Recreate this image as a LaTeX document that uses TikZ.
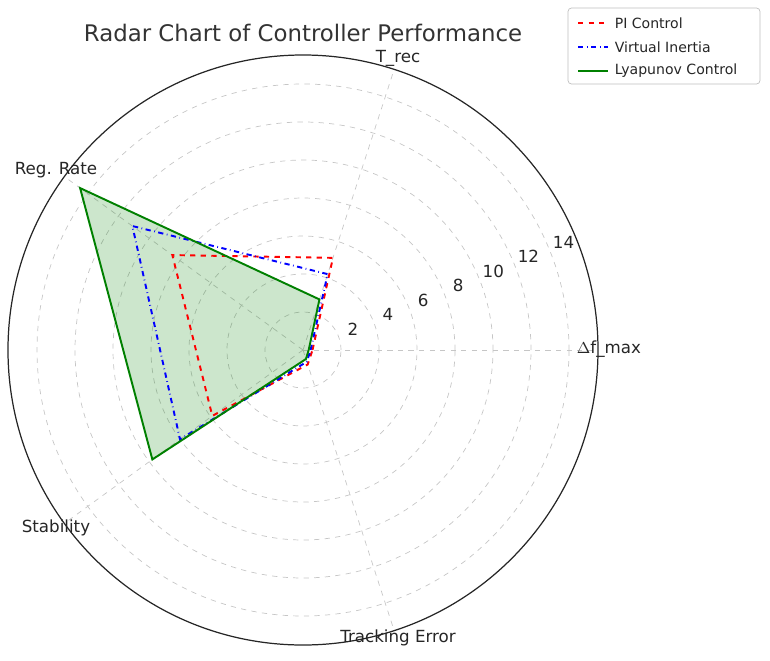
\documentclass[tikz,border=0pt]{standalone}
\usepackage{fontspec}
\setmainfont{DejaVu Sans}
\usetikzlibrary{positioning}
\definecolor{fillgreen}{RGB}{0,128,0}
\tikzset{
  gridline/.style={gray!45, dashed, line width=0.4pt},
  axislabel/.style={font=\fontsize{9.5}{11}\selectfont, text=black!85},
  ticklabel/.style={font=\fontsize{9.5}{11}\selectfont, text=black!85},
  picurve/.style={red, dashed, line width=1.1pt},
  vicurve/.style={blue, dash dot, line width=1.1pt},
  lycurve/.style={fillgreen, line width=1.1pt},
}
\begin{document}
\begin{tikzpicture}[x=0.02cm,y=0.02cm]
  \useasboundingbox (-303,-310) rectangle (467,350);
  % grid
  \foreach \r in {2,4,...,14}
    \draw[gridline] (0,0) circle ({19*\r});
  \foreach \a in {0,72,144,216,288}
    \draw[gridline] (0,0) -- (\a:295);
  \draw[black!85, line width=0.7pt] (0,0) circle (295);
  % tick labels
  \foreach \r in {2,4,...,14}
    \node[ticklabel] (t\r) at (22.5:{19*\r+16}) {\r};
  % axis labels
  \node[axislabel] (dfmax) at (306,1) {$\Delta$f\_max};
  \node[axislabel] (trec) at (95,292) {T\_rec};
  \node[axislabel] (regrate) at (-247,180) {Reg. Rate};
  \node[axislabel] (stab) at (-247,-178) {Stability};
  \node[axislabel] (track) at (95,-288) {Tracking Error};
  % data: df_max, T_rec, Reg. Rate, Stability, Tracking Error
  \def\datapoly#1#2#3#4#5{(0:{19*#1}) -- (72:{19*#2}) -- (144:{19*#3}) -- (216:{19*#4}) -- (288:{19*#5}) -- cycle}
  \fill[fillgreen, opacity=0.2] \datapoly{0.3}{2.8}{14.5}{9.8}{0.5};
  \draw[picurve] \datapoly{0.5}{5.1}{8.5}{5.9}{0.8};
  \draw[vicurve] \datapoly{0.4}{4.2}{11.1}{8.0}{0.65};
  \draw[lycurve] \datapoly{0.3}{2.8}{14.5}{9.8}{0.5};
  % title
  \node[font=\fontsize{13}{15}\selectfont, text=black!80] (title) at (0,317) {Radar Chart of Controller Performance};
  % legend
  \draw[black!25, fill=white, rounded corners=2pt] (265,342) rectangle (457,266);
  \draw[picurve] (275,327) -- (305,327) node[right, font=\fontsize{8}{10}\selectfont, black!85] (lpi) {PI Control};
  \draw[vicurve] (275,303) -- (305,303) node[right, font=\fontsize{8}{10}\selectfont, black!85] (lvi) {Virtual Inertia};
  \draw[lycurve] (275,279) -- (305,279) node[right, font=\fontsize{8}{10}\selectfont, black!85] (lly) {Lyapunov Control};
\end{tikzpicture}
\end{document}
